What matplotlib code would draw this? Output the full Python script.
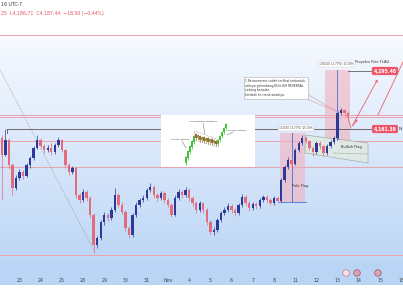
import numpy as np
import matplotlib.pyplot as plt
from matplotlib.patches import Rectangle, Polygon

# 4H candles, XAU/USD-like prices
opens = [4141, 4101, 4136, 4078, 4025, 4048, 4062, 4053, 4078, 4094,
         4118, 4136, 4122, 4113, 4118, 4108, 4124, 4136, 4113, 4078,
         4062, 4071, 4009, 3997, 4016, 4002, 3963, 3893, 3909, 3946,
         3963, 3956, 3974, 4009, 3986, 3970, 3933, 3916, 3963, 3986,
         3997, 4002, 4020, 4027, 4009, 4002, 4013, 3997, 3986, 3963,
         4002, 4016, 4009, 4020, 4002, 3990, 3974, 3990, 3974, 3946,
         3923, 3928, 3951, 3967, 3974, 3983, 3974, 3967, 3986, 4004,
         3990, 3979, 3988, 3983, 3997, 4004, 3997, 3990, 4002, 3995,
         4044, 4074, 4090, 4081, 4113, 4129, 4141, 4134, 4118, 4108,
         4129, 4122, 4106, 4122, 4131, 4141, 4198, 4205, 4198]
closes = [4101, 4136, 4078, 4025, 4048, 4062, 4053, 4078, 4094, 4118,
          4136, 4122, 4113, 4118, 4108, 4124, 4136, 4113, 4078, 4062,
          4071, 4009, 3997, 4016, 4002, 3963, 3893, 3909, 3946, 3963,
          3956, 3974, 4009, 3986, 3970, 3933, 3916, 3963, 3986, 3997,
          4002, 4020, 4027, 4009, 4002, 4013, 3997, 3986, 3963, 4002,
          4016, 4009, 4020, 4002, 3990, 3974, 3990, 3974, 3946, 3923,
          3928, 3951, 3967, 3974, 3983, 3974, 3967, 3986, 4004, 3990,
          3979, 3988, 3983, 3997, 4004, 3997, 3990, 4002, 3995, 4044,
          4074, 4090, 4081, 4113, 4129, 4141, 4134, 4118, 4108, 4129,
          4122, 4106, 4122, 4131, 4141, 4198, 4205, 4198, 4191]
highs = [4148, 4161, 4140, 4082, 4055, 4068, 4066, 4083, 4099, 4123,
         4147, 4140, 4126, 4125, 4128, 4130, 4143, 4139, 4116, 4082,
         4076, 4074, 4013, 4022, 4020, 4006, 3967, 3915, 3951, 3970,
         3968, 3980, 4025, 4013, 3992, 3974, 3937, 3968, 3992, 4003,
         4008, 4026, 4036, 4031, 4014, 4019, 4017, 4001, 3990, 4008,
         4022, 4020, 4027, 4024, 4006, 3994, 3996, 3993, 3978, 3950,
         3934, 3956, 3972, 3980, 3990, 3987, 3978, 3991, 4010, 4008,
         3994, 3993, 3992, 4002, 4009, 4008, 4001, 4007, 4006, 4049,
         4079, 4096, 4094, 4118, 4134, 4147, 4145, 4137, 4122, 4134,
         4133, 4125, 4127, 4136, 4146, 4203, 4210, 4208, 4202]
lows = [3997, 4098, 4070, 4009, 4020, 4043, 4046, 4050, 4072, 4090,
        4114, 4117, 4105, 4108, 4102, 4104, 4120, 4108, 4072, 4055,
        4058, 4002, 3990, 3993, 3996, 3955, 3875, 3886, 3905, 3940,
        3948, 3950, 3970, 3980, 3964, 3926, 3910, 3912, 3958, 3980,
        3992, 3998, 4015, 4003, 3995, 3997, 3990, 3980, 3957, 3960,
        3998, 4003, 4005, 3996, 3984, 3967, 3970, 3968, 3940, 3918,
        3917, 3924, 3946, 3962, 3970, 3968, 3960, 3963, 3982, 3984,
        3972, 3974, 3977, 3979, 3993, 3991, 3985, 3986, 3990, 3992,
        4040, 4070, 4074, 4078, 4109, 4125, 4128, 4112, 4100, 4104,
        4116, 4099, 4102, 4118, 4127, 4138, 4194, 4192, 4186]

day_labels = ['23', '24', '25', '28', '29', '30', '31', 'Nov', '4', '5',
              '6', '7', '8', '11', '12', '13', '14', '15', '18']
zone_levels = [4378.7, 4193.8, 4189.1, 4132.5, 4073.5, 3870.1]
neckline = 4161.39
target = 4295.48

# mini "bullish flag" sketch in the white inset
ins_x = [25, 27, 29, 31, 33, 35, 37, 39, 41, 43, 45, 47, 49, 51, 53, 55,
         57, 59, 61, 63, 65]
ins_open = [4, 9, 15, 20, 25, 33, 29, 31, 27, 30, 26, 29, 25, 28, 24, 26,
            23, 27, 31, 35, 39]
ins_close = [10, 16, 21, 26, 31, 29, 32, 27, 30, 26, 29, 25, 28, 24, 27, 23,
             27, 31, 35, 39, 43]

UP = '#2b3a97'
DOWN = '#e46b7b'
PINK = '#eaa3ad'
RED = '#f0606f'


def py(y):
    # pixel row -> price on this chart
    return neckline + (129 - y) * 2.312


fig = plt.figure(figsize=(4.03, 3.03), dpi=100)
fig.patch.set_facecolor('white')
ax = fig.add_axes([0, 18 / 303, 1, 285 / 303])
ax.set_xlim(-0.5, 113.5)
ax.set_ylim(py(285), py(0))
ax.axis('off')

# background gradient
rows = np.arange(285)
top = np.array([0.97, 0.98, 1.0])
bot = np.array([0.74, 0.84, 0.965])
t = np.clip((rows - 35) / (262 - 35), 0, 1)[:, None]
grad = top * (1 - t) + bot * t
grad[rows < 35] = [1, 1, 1]
grad[rows >= 262] = [0.73, 0.835, 0.965]
ax.imshow(grad[:, None, :], extent=(-0.5, 113.5, py(285), py(0)),
          aspect='auto', zorder=0)

for lv in zone_levels:
    ax.axhline(lv, color=PINK, lw=0.7, zorder=1)
ax.plot([1.5, 106], [neckline, neckline], color='#555555', lw=0.6, zorder=2)
ax.plot([1.5, 1.5], [neckline, neckline - 10], color='#555555', lw=0.6, zorder=2)

# dotted trendline
ax.plot([-0.5, 26.4], [4299, 3875], color='#888888', lw=0.5, ls=(0, (1, 1.5)), zorder=2)

# pole and breakout boxes
ax.add_patch(Rectangle((78.7, py(202)), 7.1, py(133) - py(202),
                       fc='#f2b0be', alpha=0.6, ec='none', zorder=1.5))
ax.plot([82.1, 82.1], [py(202), py(133)], color='#4a6fd0', lw=0.6, zorder=2)
ax.plot([78.5, 86], [py(202), py(202)], color='#4a6fd0', lw=0.6, zorder=2)
ax.text(84.4, py(186), 'Pole Flag', fontsize=2.6, ha='center', va='center', color='#333')
ax.text(83.2, py(128), '150,00 (3,77%) 15.00h', fontsize=2.1, ha='center', va='center',
        color='#444', zorder=6,
        bbox=dict(boxstyle='square,pad=0.3', fc='white', ec='#cccccc', lw=0.3))

ax.add_patch(Rectangle((91.4, py(141)), 7.1, py(70) - py(141),
                       fc='#f2b0be', alpha=0.6, ec='none', zorder=1.5))
ax.plot([94.8, 94.8], [py(140), py(70)], color='#4a6fd0', lw=0.6, zorder=2)
ax.text(94.8, py(64), '190,00 (2,77%) 15.00h', fontsize=2.1, ha='center', va='center',
        color='#444', zorder=6,
        bbox=dict(boxstyle='square,pad=0.3', fc='white', ec='#cccccc', lw=0.3))

# flag channel
ax.add_patch(Polygon([(85.8, py(135)), (103.6, py(143)), (103.6, py(163)), (85.8, py(153))],
                     closed=True, fc='#dfe9e2', ec='#8a9a90', lw=0.4, alpha=0.9, zorder=1.8))
ax.plot([93.7, 103.6], [py(153), py(154)], color='#777', lw=0.4, ls=(0, (2, 1.5)), zorder=2)
ax.text(98.8, py(147), 'Bullish Flag', fontsize=2.6, ha='center', va='center', color='#333', zorder=6)

# candles
x = np.arange(len(closes))
o = np.array(opens)
c = np.array(closes)
cols = [UP if cc >= oo else DOWN for oo, cc in zip(o, c)]
ax.vlines(x, lows, highs, colors=cols, lw=0.5, zorder=3)
ax.bar(x, np.maximum(np.abs(c - o), 1.5), bottom=np.minimum(o, c), width=0.68,
       color=cols, zorder=4)

# projection
ax.plot([98, 105.3], [target, target], color='#444', lw=0.5, zorder=2)
ax.text(104.7, py(62), 'Proyeksi Pole FLAG', fontsize=2.6, ha='center', va='center', color='#333')
ax.plot([97.7, 98.8], [py(115), py(128)], color=RED, lw=0.6, zorder=5)
ax.annotate('', xy=(101.1, py(117)), xytext=(98.8, py(128)),
            arrowprops=dict(arrowstyle='->', color=RED, lw=0.6, mutation_scale=4), zorder=5)
ax.annotate('', xy=(106.7, py(77)), xytext=(98.8, py(128)),
            arrowprops=dict(arrowstyle='->', color=RED, lw=0.6, mutation_scale=4), zorder=5)
ax.plot([106.4, 115.5], [py(115), py(47)], color=RED, lw=0.6, zorder=5)

for lv, yv in [(target, 4295.48), (neckline, neckline)]:
    ax.text(108.4, yv, f'{lv:,.2f}', fontsize=3.3, ha='center', va='center', color='white',
            fontweight='bold', zorder=7,
            bbox=dict(boxstyle='round,pad=0.35', fc='#ee5566', ec='none'))
ax.text(112.3, neckline, 'N', fontsize=3.2, ha='left', va='center', color='#333')

# callout note
ax.plot([82.9, 95.1, 85.8], [py(94), py(112), py(93)], color='#d9a0a8', lw=0.4, zorder=5)
note = ('1 Retracement sudah terlihat terbentuk,\n'
        'artinya gelombang BULLISH REVERSAL\n'
        'sedang berjalan\n'
        'kembali ke trend awalnya.')
ax.text(68.9, py(79), note, fontsize=2.2, ha='left', va='top', color='#333', linespacing=1.2,
        zorder=6, bbox=dict(boxstyle='square,pad=0.6', fc='white', ec='#aaaaaa', lw=0.4))

# date axis
for k, lab in enumerate(day_labels):
    ax.text(5 + 6 * k, py(280.5), lab, fontsize=3.4, ha='center', va='center', color='#444')
ax.scatter([97.4, 100.5, 106.4], [py(273)] * 3, s=22,
           c=['#f7e3e7', '#d9a3b0', '#d9a3b0'], edgecolors=['#d06b80', '#a0506a', '#a0506a'],
           linewidths=0.5, zorder=6)

# header
fig.text(0.002, 1 - 4 / 303, '16 UTC-7', fontsize=3.3, va='center', color='#333')
fig.text(0.002, 1 - 13 / 303, '25  L4,186,71  C4,187,44  \u221218,50 (\u22120,44%)',
         fontsize=3.3, va='center', color='#e0505a')

# inset sketch
ins = fig.add_axes([161 / 403, (303 - 167) / 303, 94 / 403, 52 / 303])
ins.set_facecolor('white')
ins.set_xlim(0, 94)
ins.set_ylim(0, 52)
ins.set_xticks([])
ins.set_yticks([])
for s in ins.spines.values():
    s.set_visible(False)
io = np.array(ins_open)
ic = np.array(ins_close)
icol = ['#44c43c' if b >= a else '#e04848' for a, b in zip(io, ic)]
ins.vlines(ins_x, np.minimum(io, ic) - 1.5, np.maximum(io, ic) + 1.5, colors=icol, lw=0.5)
ins.bar(ins_x, np.abs(ic - io), bottom=np.minimum(io, ic), width=1.4, color=icol)
ins.add_patch(Polygon([(33.5, 36), (56, 28), (56, 20), (33.5, 27)], closed=True, fill=False,
                      ec='#777', lw=0.3, ls=(0, (2, 1.5))))
ins.text(19, 27, 'Strong Uptrend', fontsize=1.7, ha='center', color='#333')
ins.plot([21, 25], [26, 19], color='#555', lw=0.3)
ins.text(42, 45, 'Consolidation Sideways', fontsize=1.7, ha='center', color='#333')
ins.plot([42, 44], [44, 33], color='#555', lw=0.3)
ins.text(76, 36, 'Strong Uptrend', fontsize=1.7, ha='center', color='#333')
ins.plot([72, 66], [35, 32], color='#555', lw=0.3)

fig.savefig('out.png', dpi=100)
